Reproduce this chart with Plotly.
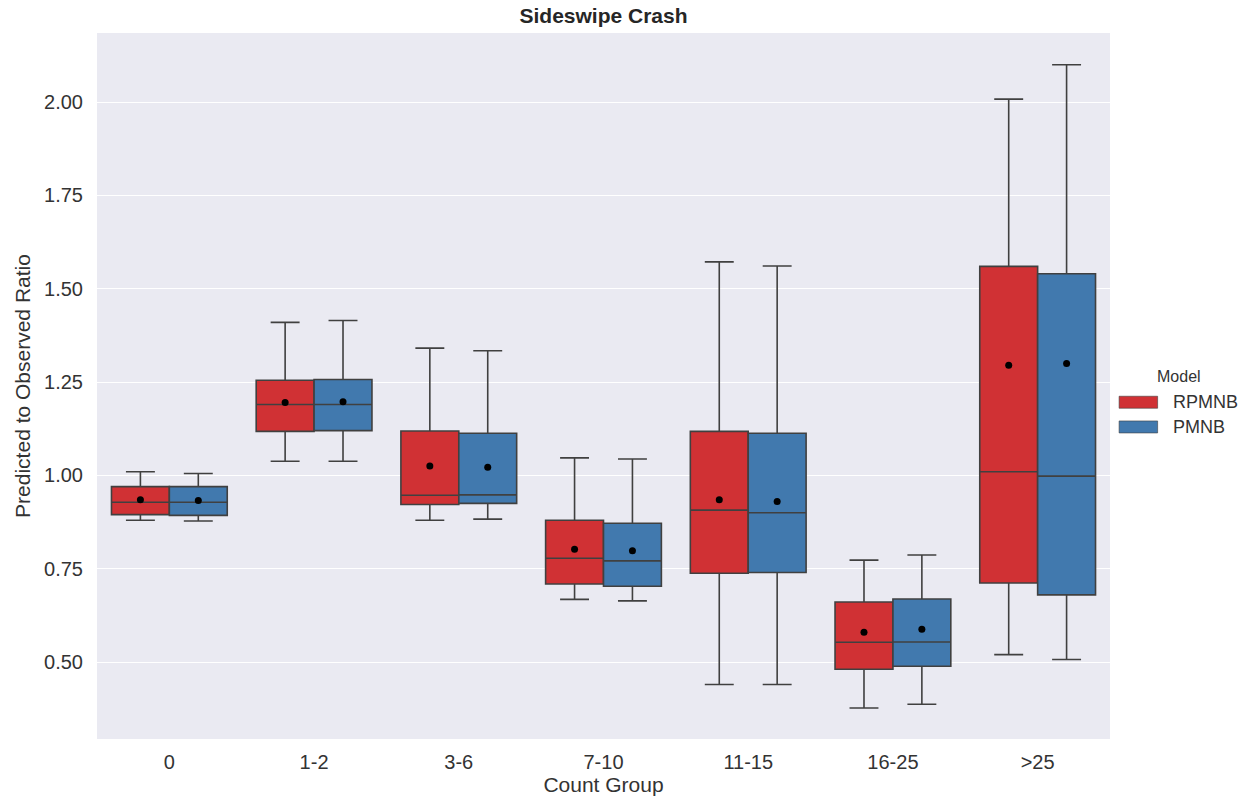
import plotly.graph_objects as go

# Count groups on the x axis
groups = ["0", "1-2", "3-6", "7-10", "11-15", "16-25", ">25"]

# Five-number summaries and means, RPMNB model
rp_low = [0.880, 1.038, 0.880, 0.668, 0.440, 0.377, 0.520]
rp_q1 = [0.895, 1.118, 0.922, 0.709, 0.738, 0.481, 0.712]
rp_med = [0.928, 1.190, 0.947, 0.778, 0.907, 0.553, 1.010]
rp_q3 = [0.970, 1.255, 1.119, 0.880, 1.118, 0.661, 1.560]
rp_high = [1.010, 1.410, 1.341, 1.047, 1.572, 0.773, 2.008]
rp_mean = [0.935, 1.195, 1.025, 0.802, 0.935, 0.580, 1.295]

# Five-number summaries and means, PMNB model
pm_low = [0.878, 1.038, 0.883, 0.664, 0.440, 0.387, 0.507]
pm_q1 = [0.893, 1.120, 0.925, 0.703, 0.740, 0.489, 0.680]
pm_med = [0.928, 1.190, 0.948, 0.771, 0.900, 0.554, 0.998]
pm_q3 = [0.970, 1.257, 1.113, 0.872, 1.113, 0.669, 1.540]
pm_high = [1.005, 1.415, 1.334, 1.044, 1.561, 0.787, 2.100]
pm_mean = [0.933, 1.197, 1.022, 0.798, 0.930, 0.588, 1.300]

y_ticks = [0.50, 0.75, 1.00, 1.25, 1.50, 1.75, 2.00]

RED = "#d03134"
BLUE = "#4179ae"
EDGE = "#404040"
TEXT = "#333333"
FONT = "Liberation Sans, Arial, sans-serif"

idx = list(range(len(groups)))
half = 0.2  # each model's box takes half of the 0.8-wide group

fig = go.Figure()

series = [
    ("RPMNB", RED, -half, rp_low, rp_q1, rp_med, rp_q3, rp_high, rp_mean),
    ("PMNB", BLUE, half, pm_low, pm_q1, pm_med, pm_q3, pm_high, pm_mean),
]

for name, color, shift, lo, q1, med, q3, hi, mean in series:
    xs = [i + shift for i in idx]
    fig.add_trace(go.Box(
        name=name,
        x=xs,
        lowerfence=lo, q1=q1, median=med, q3=q3, upperfence=hi,
        width=0.4,
        whiskerwidth=0.5,
        fillcolor=color,
        line=dict(color=EDGE, width=1.6),
        marker=dict(color=color),
        boxpoints=False,
        hoverinfo="skip",
        showlegend=False,
    ))
for name, color, shift, lo, q1, med, q3, hi, mean in series:
    xs = [i + shift for i in idx]
    fig.add_trace(go.Scatter(
        x=xs, y=mean, mode="markers",
        marker=dict(color="black", size=7, symbol="circle"),
        showlegend=False, hoverinfo="skip",
    ))

# Legend drawn beside the plot: title, colour swatches and model names
legend_shapes = []
legend_notes = [dict(
    text="Model", xref="paper", yref="paper",
    x=1.068, y=0.513, xanchor="center", yanchor="middle",
    showarrow=False, font=dict(size=16, color=TEXT, family=FONT),
)]
for k, (name, color, *_rest) in enumerate(series):
    yc = 0.477 - k * 0.035
    legend_shapes.append(dict(
        type="rect", xref="paper", yref="paper",
        x0=1.009, x1=1.047, y0=yc - 0.0085, y1=yc + 0.0085,
        fillcolor=color, line=dict(color=EDGE, width=0.6),
    ))
    legend_notes.append(dict(
        text=name, xref="paper", yref="paper",
        x=1.060, y=yc, xanchor="left", yanchor="middle",
        showarrow=False, font=dict(size=18, color=TEXT, family=FONT),
    ))

fig.update_layout(
    width=1249, height=803,
    margin=dict(l=97, r=139, t=33, b=64),
    paper_bgcolor="white",
    plot_bgcolor="#eaeaf2",
    boxmode="overlay",
    showlegend=False,
    font=dict(family=FONT, color=TEXT),
    title=dict(
        text="<b>Sideswipe Crash</b>",
        x=0.5, xref="paper", xanchor="center",
        y=0.980, yref="container", yanchor="middle",
        font=dict(size=21, color="#262626"),
    ),
    shapes=legend_shapes,
    annotations=legend_notes,
)

fig.update_xaxes(
    range=[-0.5, len(groups) - 0.5],
    tickvals=idx, ticktext=groups,
    showgrid=False, zeroline=False, showline=False,
    ticks="", ticklabelstandoff=9,
    tickfont=dict(size=20, color=TEXT),
    title=dict(text="Count Group", font=dict(size=21, color=TEXT), standoff=4),
    automargin=False,
)
fig.update_yaxes(
    range=[0.294, 2.185],
    tickvals=y_ticks, ticktext=[f"{v:.2f}" for v in y_ticks],
    showgrid=True, gridcolor="white", gridwidth=1.2,
    zeroline=False, showline=False,
    ticks="", ticklabelstandoff=13,
    tickfont=dict(size=20, color=TEXT),
    title=dict(text="Predicted to Observed Ratio", font=dict(size=21, color=TEXT), standoff=7),
    automargin=False,
)

fig.write_html("out.html")
